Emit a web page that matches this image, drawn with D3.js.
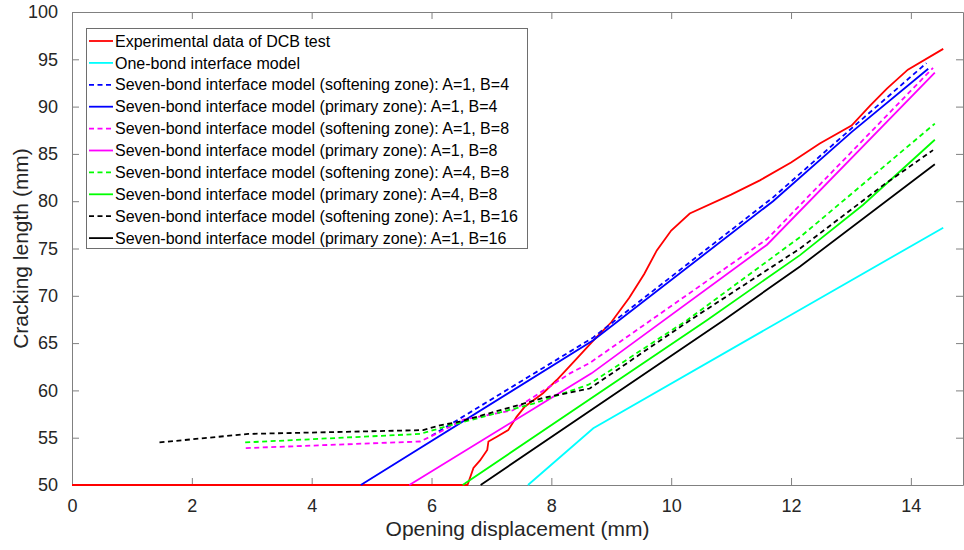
<!DOCTYPE html>
<html>
<head>
<meta charset="utf-8">
<script src="https://cdn.jsdelivr.net/npm/d3@7"></script>
<style>
body {margin: 0; background: #fff;}
svg {font-family: "Liberation Sans", Arial, Helvetica, sans-serif;}
</style>
</head>
<body>
<div id="chart"></div>
<script>
// axis ticks
const x_ticks = [0, 2, 4, 6, 8, 10, 12, 14];
const y_ticks = [50, 55, 60, 65, 70, 75, 80, 85, 90, 95, 100];

// legend labels, in drawing order
const labels = [
    "Experimental data of DCB test",
    "One-bond interface model",
    "Seven-bond interface model (softening zone): A=1, B=4",
    "Seven-bond interface model (primary zone): A=1, B=4",
    "Seven-bond interface model (softening zone): A=1, B=8",
    "Seven-bond interface model (primary zone): A=1, B=8",
    "Seven-bond interface model (softening zone): A=4, B=8",
    "Seven-bond interface model (primary zone): A=4, B=8",
    "Seven-bond interface model (softening zone): A=1, B=16",
    "Seven-bond interface model (primary zone): A=1, B=16"
];

// curves (opening displacement mm, cracking length mm)
const dcb_x = [0, 6.60, 6.70, 6.81, 6.93, 6.95, 7.09, 7.28, 7.42, 7.56, 7.86, 8.09, 8.40, 8.75, 9.00, 9.30, 9.55, 9.76, 10.0, 10.31, 11.0, 11.48, 12.0, 12.48, 13.01, 13.32, 13.6, 13.95, 14.54];
const dcb_y = [50, 50, 51.8, 52.6, 53.7, 54.6, 55.1, 55.8, 57.2, 58.3, 59.7, 61.1, 63.2, 65.6, 67.2, 69.8, 72.3, 74.8, 76.9, 78.7, 80.7, 82.2, 84.1, 86.1, 88.0, 90.1, 91.9, 93.9, 96.1];

const one_bond_x = [7.61, 8.70, 14.54];
const one_bond_y = [50, 56.0, 77.2];

const soft_a1b4_x = [6.0, 8.7, 11.7, 13.01, 14.26];
const soft_a1b4_y = [55.2, 65.6, 80.4, 87.7, 94.6];
const prim_a1b4_x = [4.82, 8.7, 11.7, 13.01, 14.29];
const prim_a1b4_y = [50, 65.3, 80.0, 87.3, 94.0];

const soft_a1b8_x = [2.90, 5.81, 6.14, 6.53, 7.36, 8.31, 8.64, 11.6, 14.37];
const soft_a1b8_y = [53.9, 54.6, 55.6, 56.9, 57.9, 61.8, 62.9, 76.0, 94.1];
const prim_a1b8_x = [5.63, 8.67, 11.6, 14.4];
const prim_a1b8_y = [50, 61.8, 75.4, 93.6];

const soft_a4b8_x = [2.89, 5.81, 6.14, 6.25, 7.70, 8.62, 10.26, 12.15, 14.4];
const soft_a4b8_y = [54.5, 55.4, 56.0, 56.2, 58.6, 60.6, 67.4, 76.2, 88.2];
const prim_a4b8_x = [6.52, 10.59, 12.15, 13.2, 14.4];
const prim_a4b8_y = [50, 67.4, 74.3, 79.6, 86.5];

const soft_a1b16_x = [1.46, 2.94, 5.86, 6.14, 6.47, 7.48, 7.86, 8.64, 10.31, 12.15, 13.54, 14.37];
const soft_a1b16_y = [54.5, 55.4, 55.8, 56.3, 56.7, 58.5, 59.2, 60.2, 67.4, 75.0, 81.7, 85.4];
const prim_a1b16_x = [6.82, 10.87, 12.15, 14.4];
const prim_a1b16_y = [50, 67.4, 73.1, 83.9];

const colors = ["#ff0000", "#00ffff", "#0000ff", "#0000ff", "#ff00ff", "#ff00ff", "#00ff00", "#00ff00", "#000000", "#000000"];
const dashed = [false, false, true, false, true, false, true, false, true, false];


const w = 964, h = 550;
const m = {left: 72, right: 963, top: 12, bottom: 485};

const pairs = [
    [dcb_x, dcb_y], [one_bond_x, one_bond_y],
    [soft_a1b4_x, soft_a1b4_y], [prim_a1b4_x, prim_a1b4_y],
    [soft_a1b8_x, soft_a1b8_y], [prim_a1b8_x, prim_a1b8_y],
    [soft_a4b8_x, soft_a4b8_y], [prim_a4b8_x, prim_a4b8_y],
    [soft_a1b16_x, soft_a1b16_y], [prim_a1b16_x, prim_a1b16_y]
];
const series = pairs.map(([xs, ys], i) => ({
    label: labels[i], color: colors[i], dashed: dashed[i],
    points: xs.map((v, j) => [v, ys[j]])
}));

const svg = d3.select("#chart").append("svg").attr("width", w).attr("height", h);

const x = d3.scaleLinear().domain([0, 14.87]).range([m.left, m.right]);
const y = d3.scaleLinear().domain([50, 100]).range([m.bottom, m.top]);

const axis_color = "#808080", text_color = "#262626";
const tick_len = 7;

// axes (box on, ticks inside)
const axes = svg.append("g");
axes.append("g").attr("transform", `translate(0, ${m.bottom})`)
    .call(d3.axisBottom(x).tickValues(x_ticks).tickSizeInner(-tick_len).tickSizeOuter(0).tickPadding(14));
axes.append("g").attr("transform", `translate(0, ${m.top})`)
    .call(d3.axisTop(x).tickValues(x_ticks).tickSizeInner(-tick_len).tickSizeOuter(0).tickFormat(""));
axes.append("g").attr("transform", `translate(${m.left}, 0)`)
    .call(d3.axisLeft(y).tickValues(y_ticks).tickSizeInner(-tick_len).tickSizeOuter(0).tickPadding(14));
axes.append("g").attr("transform", `translate(${m.right}, 0)`)
    .call(d3.axisRight(y).tickValues(y_ticks).tickSizeInner(-tick_len).tickSizeOuter(0).tickFormat(""));

axes.selectAll(".domain").attr("stroke", axis_color);
axes.selectAll(".tick line").attr("stroke", axis_color);
axes.selectAll(".tick text").attr("fill", text_color).style("font-size", "18px");

svg.append("text")
    .attr("x", (m.left + m.right) / 2).attr("y", 536)
    .attr("text-anchor", "middle").attr("fill", text_color)
    .style("font-size", "21px")
    .text("Opening displacement (mm)");

svg.append("text")
    .attr("transform", `translate(28, ${(m.top + m.bottom) / 2}) rotate(-90)`)
    .attr("text-anchor", "middle").attr("fill", text_color)
    .style("font-size", "21px")
    .text("Cracking length (mm)");

// lines
const line = d3.line().x(d => x(d[0])).y(d => y(d[1]));

svg.append("g").selectAll("path").data(series).enter().append("path")
    .attr("d", d => line(d.points))
    .attr("fill", "none")
    .attr("stroke", d => d.color)
    .attr("stroke-width", 1.8)
    .attr("stroke-dasharray", d => d.dashed ? "5,3.5" : null);

// legend
const lg = {x: 86, y: 28, w: 441, h: 220, row: 21.9};
const legend = svg.append("g");
legend.append("rect")
    .attr("x", lg.x + 0.5).attr("y", lg.y + 0.5).attr("width", lg.w).attr("height", lg.h)
    .attr("fill", "#fff").attr("stroke", "#6e6e6e").attr("stroke-width", 1);

const items = legend.selectAll("g.item").data(series).enter().append("g")
    .attr("class", "item")
    .attr("transform", (d, i) => `translate(${lg.x}, ${lg.y + 13 + i * lg.row})`);

items.append("line")
    .attr("x1", 3).attr("x2", 27).attr("y1", 0).attr("y2", 0)
    .attr("stroke", d => d.color).attr("stroke-width", 1.8)
    .attr("stroke-dasharray", d => d.dashed ? "5,3.5" : null);

items.append("text")
    .attr("x", 29).attr("y", 0).attr("dy", "0.35em")
    .attr("fill", "#000").style("font-size", "16px")
    .text(d => d.label);
</script>
</body>
</html>
